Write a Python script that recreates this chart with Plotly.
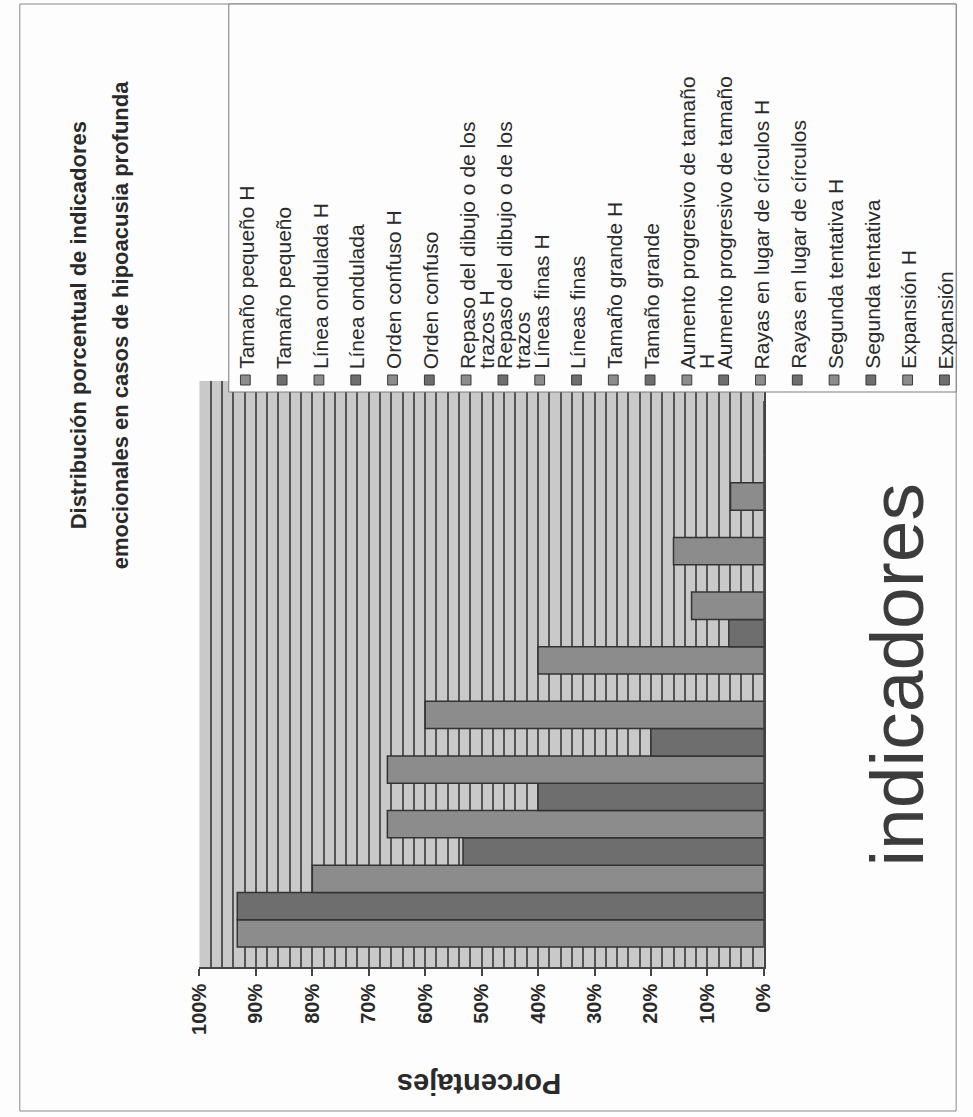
import textwrap
import plotly.graph_objects as go

W, H = 973, 1117

# Series (one bar per indicator, "H" = hipoacusia group)
series = [
    "Tamaño pequeño H", "Tamaño pequeño",
    "Línea ondulada H", "Línea ondulada",
    "Orden confuso H", "Orden confuso",
    "Repaso del dibujo o de los trazos H", "Repaso del dibujo o de los trazos",
    "Líneas finas H", "Líneas finas",
    "Tamaño grande H", "Tamaño grande",
    "Aumento progresivo de tamaño H", "Aumento progresivo de tamaño",
    "Rayas en lugar de círculos H", "Rayas en lugar de círculos",
    "Segunda tentativa H", "Segunda tentativa",
    "Expansión H", "Expansión",
]
porcentajes = [93.3, 93.3, 80.0, 53.3, 66.7, 40.0, 66.7, 20.0, 60.0, 0.0,
               40.0, 6.2, 12.8, 0.0, 16.0, 0.0, 5.9, 0.0, 0.0, 0.0]
categoria = ["indicadores"]
tick_vals = [0, 10, 20, 30, 40, 50, 60, 70, 80, 90, 100]
tick_text = ["0%", "10%", "20%", "30%", "40%", "50%", "60%", "70%", "80%", "90%", "100%"]

titulo = ["Distribución porcentual de indicadores",
          "emocionales en casos de hipoacusia profunda"]
titulo_valores = "Porcentajes"
titulo_categorias = "indicadores"

FONT = "Liberation Sans, Arial, sans-serif"
INK = "#2a2a2a"
LIGHT = "#8c8c8c"
DARK = "#6e6e6e"


def px(x):
    return x / W


def py(y):
    return 1 - y / H


def color_for(name):
    return LIGHT if name.endswith(" H") else DARK


fig = go.Figure()
for name, val in zip(series, porcentajes):
    fig.add_trace(go.Bar(
        x=[val], y=categoria, orientation="h", name=name,
        marker=dict(color=color_for(name), line=dict(color="#333333", width=1.5)),
        showlegend=False,
    ))

shapes = []
annotations = []

# outer frame of the chart
shapes.append(dict(type="rect", xref="paper", yref="paper",
                   x0=px(8), x1=px(967), y0=py(1111), y1=py(4),
                   line=dict(color="#8a8a8a", width=1), fillcolor="rgba(0,0,0,0)",
                   layer="below"))

# legend box (drawn over the top of the plot area)
shapes.append(dict(type="rect", xref="paper", yref="paper",
                   x0=px(222), x1=px(967), y0=py(392), y1=py(4),
                   line=dict(color="#7a7a7a", width=1), fillcolor="#fdfdfd",
                   layer="above"))

# legend entries: marker square + rotated label
first_x, pitch = 239.0, (955.0 - 239.0) / 19
line_gap = 19
for i, name in enumerate(series):
    cx = first_x + i * pitch
    shapes.append(dict(type="rect", xref="paper", yref="paper",
                       x0=px(cx - 5), x1=px(cx + 5), y0=py(385), y1=py(375),
                       line=dict(color="#3a3a3a", width=1), fillcolor=color_for(name),
                       layer="above"))
    for j, line in enumerate(textwrap.wrap(name, width=28)):
        annotations.append(dict(
            text=line, xref="paper", yref="paper",
            x=px(cx + 1 + j * line_gap), y=py(371), xanchor="center", yanchor="bottom",
            textangle=-90, showarrow=False,
            font=dict(family=FONT, size=21, color=INK)))

# chart title (two rotated lines)
for k, line in enumerate(titulo):
    annotations.append(dict(
        text="<b>%s</b>" % line, xref="paper", yref="paper",
        x=px(69 + 43 * k), y=py(325), xanchor="center", yanchor="middle",
        textangle=-90, showarrow=False,
        font=dict(family=FONT, size=22, color=INK)))

# value axis title
annotations.append(dict(
    text="<b>%s</b>" % titulo_valores, xref="paper", yref="paper",
    x=px(479), y=py(1084), xanchor="center", yanchor="middle",
    textangle=180, showarrow=False,
    font=dict(family=FONT, size=29, color=INK)))

# category axis title
annotations.append(dict(
    text=titulo_categorias, xref="paper", yref="paper",
    x=px(906), y=py(675), xanchor="center", yanchor="middle",
    textangle=-90, showarrow=False,
    font=dict(family=FONT, size=75, color="#3c3c3c")))

fig.update_layout(
    width=W, height=H,
    margin=dict(l=0, r=0, t=0, b=0),
    paper_bgcolor="#fdfdfd",
    plot_bgcolor="#c9c9c9",
    barmode="group", bargap=0.068, bargroupgap=0,
    xaxis=dict(
        domain=[px(192), px(770)], range=[100, 0],
        tickmode="array", tickvals=tick_vals, ticktext=tick_text,
        tickangle=-90, ticks="outside", ticklen=7, tickcolor="#444444", tickwidth=1.5,
        tickfont=dict(family=FONT, size=20, color=INK, weight="bold"),
        showline=True, linecolor="#444444", linewidth=1.5,
        showgrid=True, gridcolor="#555555", gridwidth=1.5,
        minor=dict(dtick=2, tick0=0, showgrid=True, gridcolor="#555555",
                   gridwidth=1.5, ticks=""),
        zeroline=False,
    ),
    yaxis=dict(
        domain=[py(967), py(381)], side="right", type="category",
        showline=True, linecolor="#444444", linewidth=1.5,
        showticklabels=False, ticks="", showgrid=False, zeroline=False,
    ),
    shapes=shapes,
    annotations=annotations,
)

fig.write_html("out.html")
